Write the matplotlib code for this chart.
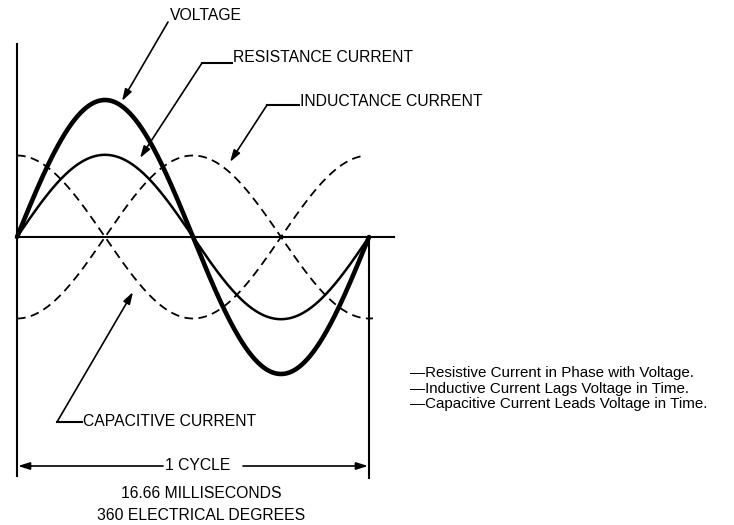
import matplotlib
matplotlib.use("Agg")
import matplotlib.pyplot as plt
import numpy as np

plt.rcParams["font.family"] = ["Liberation Sans", "DejaVu Sans"]

# ── Wave data (amplitude relative to voltage peak, phase shift in degrees) ──
wave_names = ["VOLTAGE", "RESISTANCE CURRENT", "INDUCTANCE CURRENT", "CAPACITIVE CURRENT"]
amplitudes = [1.0, 0.60, 0.595, 0.595]
phase_shifts = [0, 0, -90, 90]
degree_span = [360, 360, 364, 352]

notes = [
    "\u2014Resistive Current in Phase with Voltage.",
    "\u2014Inductive Current Lags Voltage in Time.",
    "\u2014Capacitive Current Leads Voltage in Time.",
]
cycle_label = "1 CYCLE"
cycle_info = ["16.66 MILLISECONDS", "360 ELECTRICAL DEGREES"]

# ── Layout (pixels of the 734x525 canvas) ──────────────────────────────────
W, H = 734, 525
X0, X360 = 17, 369          # 0 deg and 360 deg
Y0, AMP_PX = 237, 137       # baseline and voltage peak height
_STYLES = [
    dict(lw=3.3, ls="-"),
    dict(lw=1.8, ls="-"),
    dict(lw=1.3, ls=(0, (4.8, 3.0))),
    dict(lw=1.3, ls=(0, (4.8, 3.0))),
]
_FS = 11.3
_FS_NOTE = 10.9

fig = plt.figure(figsize=(W / 100, H / 100), dpi=100)
ax = fig.add_axes([0, 0, 1, 1])
deg_per_px = 360 / (X360 - X0)
ax.set_xlim(-X0 * deg_per_px, (W - X0) * deg_per_px)
ax.set_ylim(-(H - Y0) / AMP_PX, Y0 / AMP_PX)
ax.axis("off")

# overlay in pixel coordinates for the frame lines and call-outs
ov = fig.add_axes([0, 0, 1, 1])
ov.set_xlim(0, W)
ov.set_ylim(H, 0)
ov.axis("off")
ov.patch.set_alpha(0)

# waves
for amp, shift, span, st in zip(amplitudes, phase_shifts, degree_span, _STYLES):
    th = np.linspace(0, span, 600)
    ax.plot(th, amp * np.sin(np.radians(th + shift)), color="black",
            linewidth=st["lw"], linestyle=st["ls"], solid_capstyle="round")

# frame lines
ov.plot([X0, X0], [44, 476], color="black", lw=1.5)
ov.plot([X360, X360], [Y0, 478], color="black", lw=1.5)
ov.plot([X0, 394], [Y0, Y0], color="black", lw=1.5)

_arrow = dict(arrowstyle="-|>,head_length=0.7,head_width=0.22", color="black",
              lw=1.2, shrinkA=0, shrinkB=0, mutation_scale=10)


def callout(text, tx, ty, elbow, tip):
    """Label with optional elbow leader line and arrow to a curve."""
    ov.text(tx, ty, text, fontsize=_FS, ha="left", va="center")
    if elbow is not None:
        ov.plot([elbow[0], tx - 1], [elbow[1], elbow[1]], color="black", lw=1.5)
        start = elbow
    else:
        start = (tx - 2, ty + 7)
    ov.annotate("", xy=tip, xytext=start, arrowprops=_arrow)


callout(wave_names[0], 170, 15, None, (122, 101))
callout(wave_names[1], 233, 58, (202, 63), (140, 158))
callout(wave_names[2], 300, 102, (267, 105), (230, 162))
callout(wave_names[3], 83, 422, (57, 422), (133, 292))

# cycle dimension
ov.text(198, 466, cycle_label, fontsize=_FS, ha="center", va="center")
ov.annotate("", xy=(18, 466), xytext=(163, 466), arrowprops=_arrow)
ov.annotate("", xy=(368, 466), xytext=(243, 466), arrowprops=_arrow)
for i, line in enumerate(cycle_info):
    ov.text(201, 493 + i * 22, line, fontsize=_FS, ha="center", va="center")

# notes
for i, line in enumerate(notes):
    ov.text(410, 373 + i * 15.5, line, fontsize=_FS_NOTE, ha="left", va="center")

fig.savefig("out.png", dpi=100)
plt.close(fig)
